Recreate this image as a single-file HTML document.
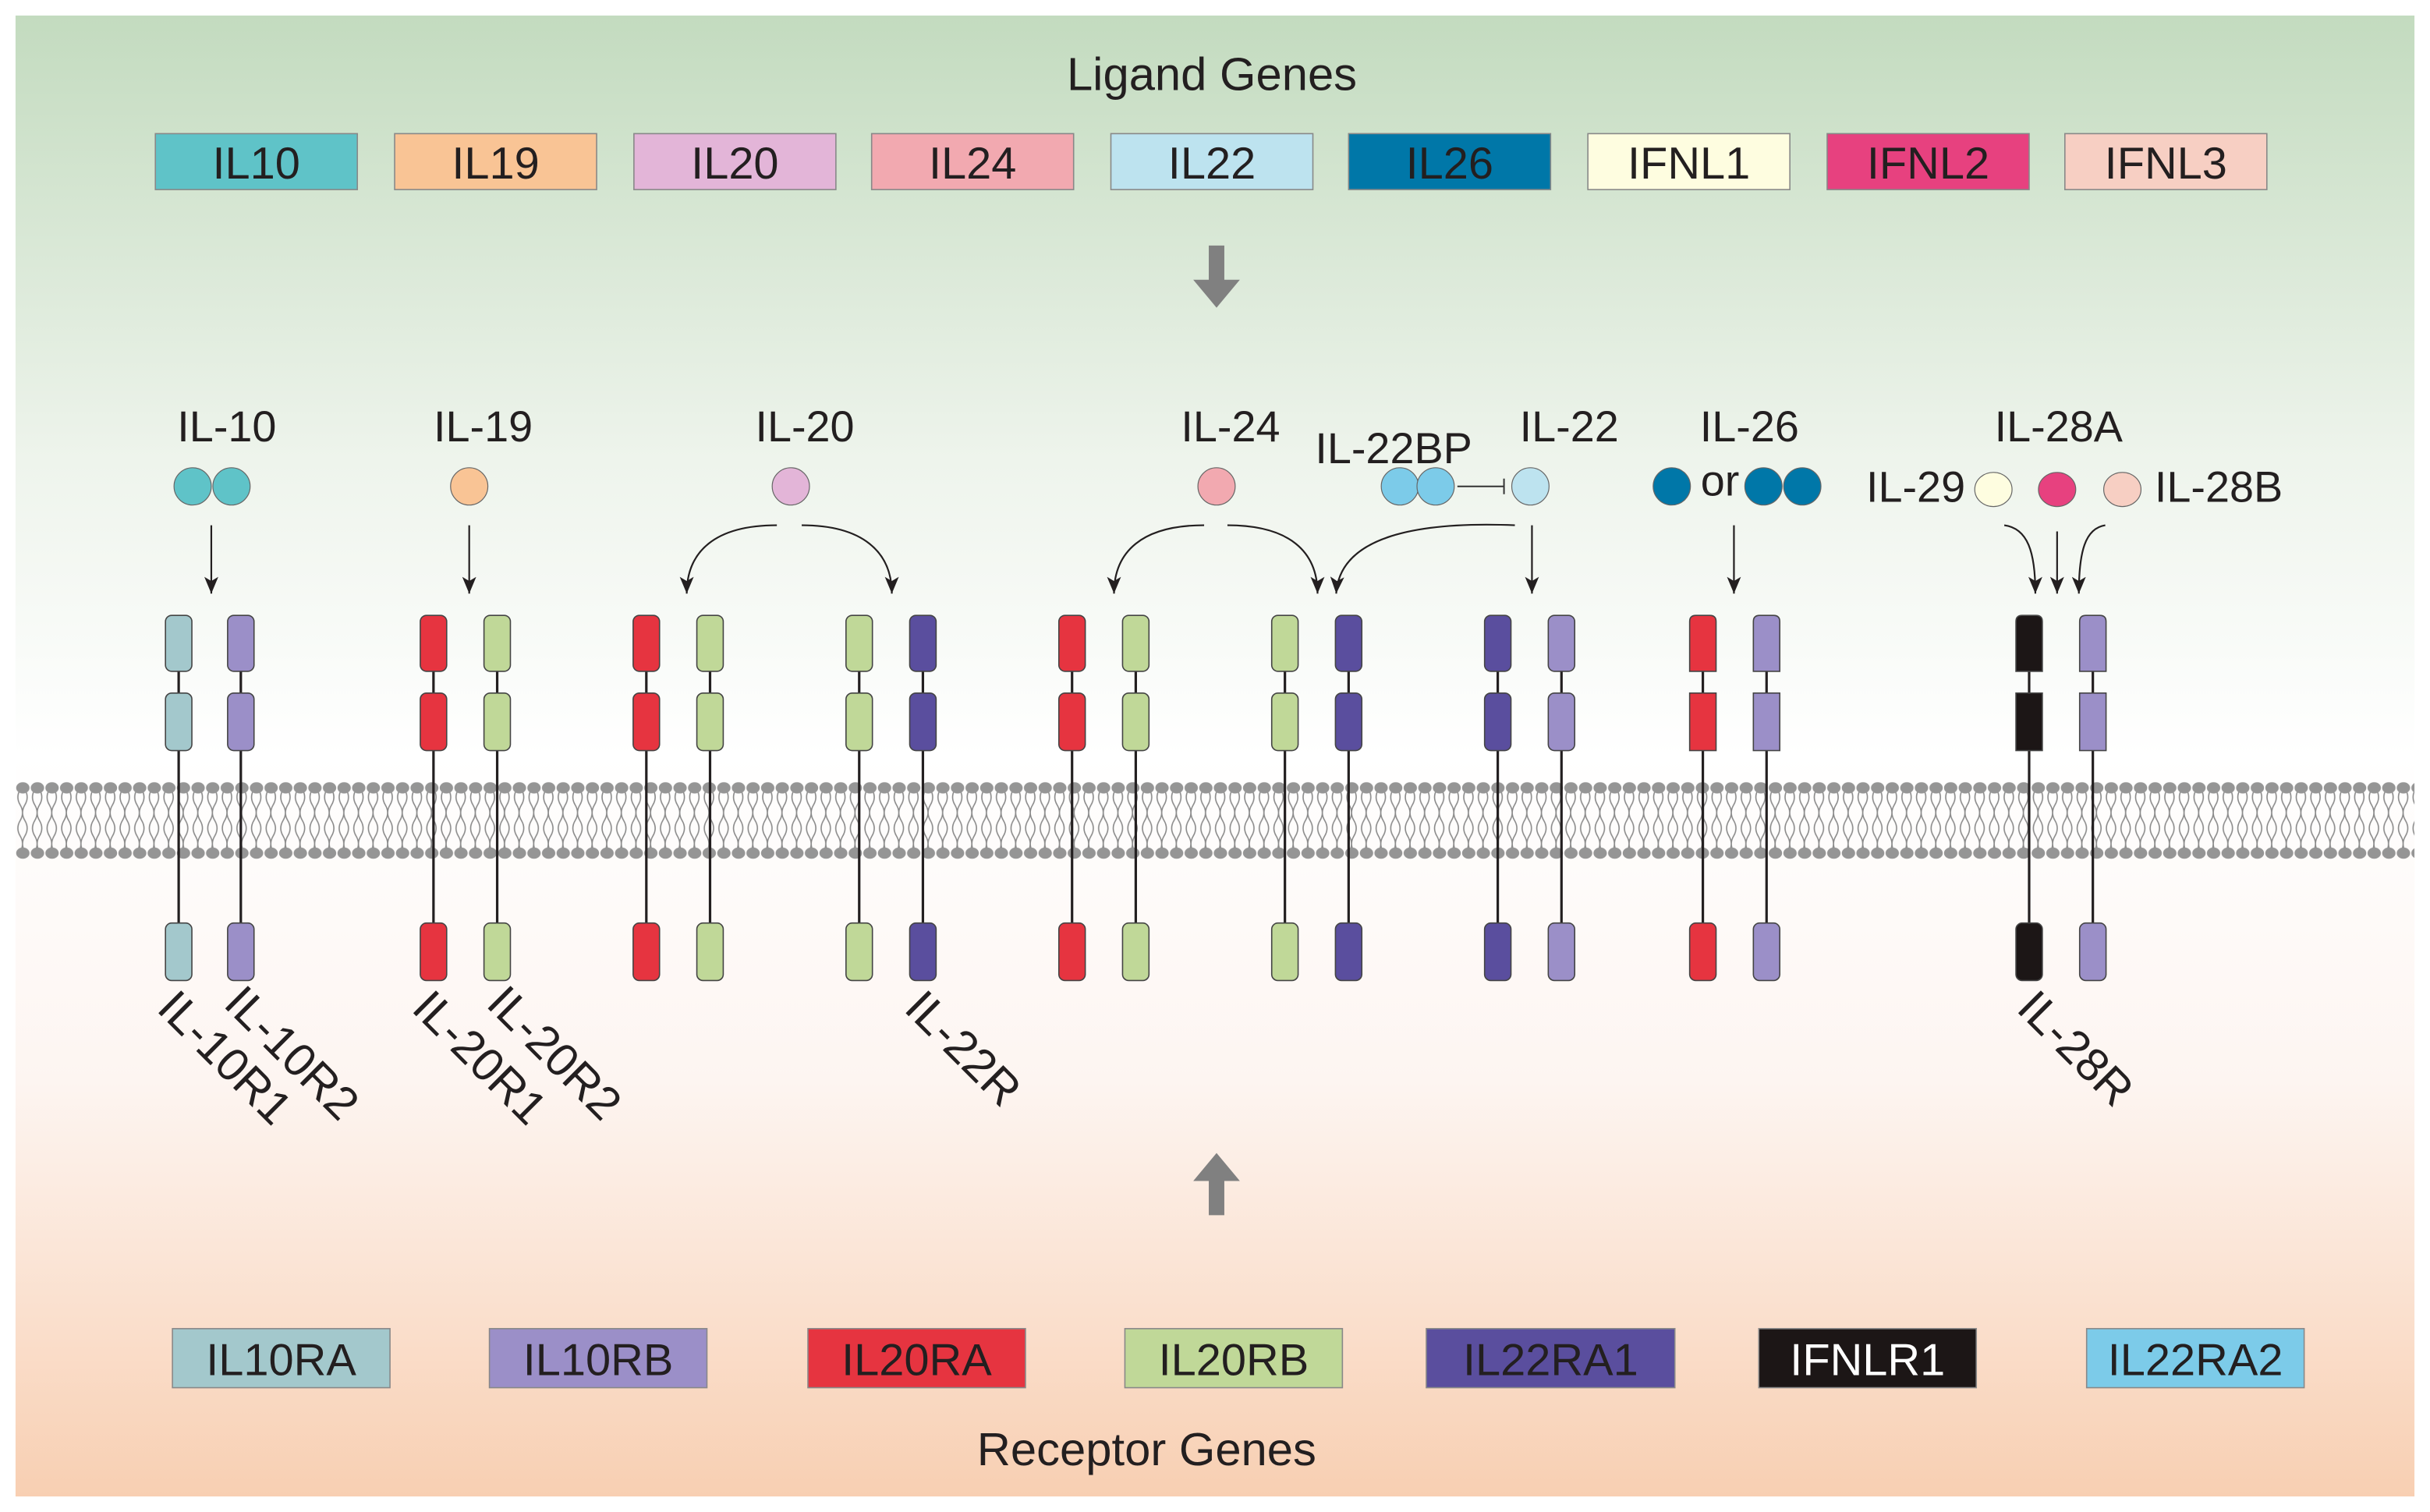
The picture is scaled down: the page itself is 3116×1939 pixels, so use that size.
<!DOCTYPE html>
<html><head><meta charset="utf-8"><style>
html,body{margin:0;padding:0;background:#fff}
svg{display:block}
text{font-family:"Liberation Sans",sans-serif;fill:#231f20}
</style></head><body>
<svg width="3116" height="1939" viewBox="0 0 1564 973" preserveAspectRatio="none" xmlns="http://www.w3.org/2000/svg">
<defs>
<linearGradient id="bg" x1="0" y1="0" x2="0" y2="1">
<stop offset="0" stop-color="#c3dbbf"/>
<stop offset="0.3" stop-color="#eef4ec"/>
<stop offset="0.5" stop-color="#ffffff"/>
<stop offset="0.72" stop-color="#fdf5f1"/>
<stop offset="1" stop-color="#f8cfb2"/>
</linearGradient>
<pattern id="mem" x="10" y="500" width="9.4" height="56" patternUnits="userSpaceOnUse">
<path d="M3 8 q-3 5 0 10 q3 5 0 10 M6 8 q3 5 0 10 q-3 5 0 10 M3 28 q-3 5 0 10 q3 5 0 10 M6 28 q3 5 0 10 q-3 5 0 10" fill="none" stroke="#8a8a8a" stroke-width="0.8"/>
<ellipse cx="4.7" cy="7" rx="4.3" ry="3.6" fill="#959595"/>
<ellipse cx="4.7" cy="49" rx="4.3" ry="3.6" fill="#959595"/>
</pattern>
<marker id="ah" viewBox="0 0 12 10" refX="12" refY="5" markerWidth="12" markerHeight="9" orient="auto" markerUnits="userSpaceOnUse">
<path d="M0 0 L12 5 L0 10 L3 5 Z" fill="#231f20"/>
</marker>
</defs>
<rect x="10" y="10" width="1544" height="953" fill="url(#bg)"/>
<rect x="10" y="500" width="1544" height="56" fill="url(#mem)"/>

<text x="780" y="58" font-size="30" text-anchor="middle">Ligand Genes</text>
<g stroke="#888" stroke-width="0.8">
<rect x="100" y="86" width="130" height="36" fill="#5fc3c8"/>
<rect x="254" y="86" width="130" height="36" fill="#f9c495"/>
<rect x="408" y="86" width="130" height="36" fill="#e3b5d8"/>
<rect x="561" y="86" width="130" height="36" fill="#f2a9b0"/>
<rect x="715" y="86" width="130" height="36" fill="#bde3ef"/>
<rect x="868" y="86" width="130" height="36" fill="#0077a8"/>
<rect x="1022" y="86" width="130" height="36" fill="#fefde0"/>
<rect x="1176" y="86" width="130" height="36" fill="#e7417f"/>
<rect x="1329" y="86" width="130" height="36" fill="#f7cfc3"/>
</g>
<g font-size="29" text-anchor="middle">
<text x="165" y="115">IL10</text><text x="319" y="115">IL19</text><text x="473" y="115">IL20</text>
<text x="626" y="115">IL24</text><text x="780" y="115">IL22</text><text x="933" y="115">IL26</text>
<text x="1087" y="115">IFNL1</text><text x="1241" y="115">IFNL2</text><text x="1394" y="115">IFNL3</text>
</g>

<path d="M778 158 h10 v22 h10 l-15 18 l-15 -18 h10 z" fill="#808080"/>
<path d="M778 782 h10 v-22 h10 l-15 -18 l-15 18 h10 z" fill="#808080"/>

<g font-size="28" text-anchor="middle">
<text x="146" y="284">IL-10</text><text x="311" y="284">IL-19</text><text x="518" y="284">IL-20</text>
<text x="792" y="284">IL-24</text><text x="897" y="298">IL-22BP</text><text x="1010" y="284">IL-22</text>
<text x="1126" y="284">IL-26</text><text x="1325" y="284">IL-28A</text>
<text x="1233" y="323">IL-29</text><text x="1428" y="323">IL-28B</text>
<text x="1107" y="319">or</text>
</g>
<g stroke="#666" stroke-width="0.6">
<ellipse cx="124" cy="313" rx="12" ry="12" fill="#5fc3c8"/><ellipse cx="149" cy="313" rx="12" ry="12" fill="#5fc3c8"/>
<ellipse cx="302" cy="313" rx="12" ry="12" fill="#f9c495"/>
<ellipse cx="509" cy="313" rx="12" ry="12" fill="#e3b5d8"/>
<ellipse cx="783" cy="313" rx="12" ry="12" fill="#f2a9b0"/>
<ellipse cx="901" cy="313" rx="12" ry="12" fill="#7ccbe9"/><ellipse cx="924" cy="313" rx="12" ry="12" fill="#7ccbe9"/>
<ellipse cx="985" cy="313" rx="12" ry="12" fill="#bde3ef"/>
<ellipse cx="1076" cy="313" rx="12" ry="12" fill="#0077a8"/><ellipse cx="1135" cy="313" rx="12" ry="12" fill="#0077a8"/><ellipse cx="1160" cy="313" rx="12" ry="12" fill="#0077a8"/>
<ellipse cx="1283" cy="315" rx="12" ry="11" fill="#fefde0"/><ellipse cx="1324" cy="315" rx="12" ry="11" fill="#e7417f"/><ellipse cx="1366" cy="315" rx="12" ry="11" fill="#f7cfc3"/>
</g>
<path d="M938 313 h30 M968 308 v10" stroke="#333" stroke-width="1"/>

<g fill="none" stroke="#231f20" stroke-width="1.1" marker-end="url(#ah)">
<path d="M136 338 V382"/><path d="M302 338 V382"/>
<path d="M500 338 C460 338 442 355 442 382"/><path d="M516 338 C555 338 574 355 574 382"/>
<path d="M775 338 C735 338 717 355 717 382"/><path d="M790 338 C830 338 848 355 848 382"/>
<path d="M975 338 C900 335 862 350 860 382"/><path d="M986 338 V382"/>
<path d="M1116 338 V382"/>
<path d="M1290 338 C1305 340 1310 355 1310 382"/><path d="M1324 342 V382"/><path d="M1355 338 C1342 340 1338 355 1338 382"/>
</g>

<g stroke="#231f20" stroke-width="1.6">
<path d="M115 430V596M155 430V596M279 430V596M320 430V596M416 430V596M457 430V596M553 430V596M594 430V596M690 430V596M731 430V596M827 430V596M868 430V596M964 430V596M1005 430V596M1096 430V596M1137 430V596M1306 430V596M1347 430V596"/>
</g>
<g stroke="#444" stroke-width="0.8">
<g fill="#a3c8cc"><rect x="106.5" y="396" width="17" height="36" rx="4"/><rect x="106.5" y="446" width="17" height="37" rx="4"/><rect x="106.5" y="594" width="17" height="37" rx="4"/></g>
<g fill="#9b8fc8"><rect x="146.5" y="396" width="17" height="36" rx="4"/><rect x="146.5" y="446" width="17" height="37" rx="4"/><rect x="146.5" y="594" width="17" height="37" rx="4"/></g>
<g fill="#e63440"><rect x="270.5" y="396" width="17" height="36" rx="4"/><rect x="270.5" y="446" width="17" height="37" rx="4"/><rect x="270.5" y="594" width="17" height="37" rx="4"/></g>
<g fill="#c0d898"><rect x="311.5" y="396" width="17" height="36" rx="4"/><rect x="311.5" y="446" width="17" height="37" rx="4"/><rect x="311.5" y="594" width="17" height="37" rx="4"/></g>
<g fill="#e63440"><rect x="407.5" y="396" width="17" height="36" rx="4"/><rect x="407.5" y="446" width="17" height="37" rx="4"/><rect x="407.5" y="594" width="17" height="37" rx="4"/></g>
<g fill="#c0d898"><rect x="448.5" y="396" width="17" height="36" rx="4"/><rect x="448.5" y="446" width="17" height="37" rx="4"/><rect x="448.5" y="594" width="17" height="37" rx="4"/></g>
<g fill="#c0d898"><rect x="544.5" y="396" width="17" height="36" rx="4"/><rect x="544.5" y="446" width="17" height="37" rx="4"/><rect x="544.5" y="594" width="17" height="37" rx="4"/></g>
<g fill="#5a4e9e"><rect x="585.5" y="396" width="17" height="36" rx="4"/><rect x="585.5" y="446" width="17" height="37" rx="4"/><rect x="585.5" y="594" width="17" height="37" rx="4"/></g>
<g fill="#e63440"><rect x="681.5" y="396" width="17" height="36" rx="4"/><rect x="681.5" y="446" width="17" height="37" rx="4"/><rect x="681.5" y="594" width="17" height="37" rx="4"/></g>
<g fill="#c0d898"><rect x="722.5" y="396" width="17" height="36" rx="4"/><rect x="722.5" y="446" width="17" height="37" rx="4"/><rect x="722.5" y="594" width="17" height="37" rx="4"/></g>
<g fill="#c0d898"><rect x="818.5" y="396" width="17" height="36" rx="4"/><rect x="818.5" y="446" width="17" height="37" rx="4"/><rect x="818.5" y="594" width="17" height="37" rx="4"/></g>
<g fill="#5a4e9e"><rect x="859.5" y="396" width="17" height="36" rx="4"/><rect x="859.5" y="446" width="17" height="37" rx="4"/><rect x="859.5" y="594" width="17" height="37" rx="4"/></g>
<g fill="#5a4e9e"><rect x="955.5" y="396" width="17" height="36" rx="4"/><rect x="955.5" y="446" width="17" height="37" rx="4"/><rect x="955.5" y="594" width="17" height="37" rx="4"/></g>
<g fill="#9b8fc8"><rect x="996.5" y="396" width="17" height="36" rx="4"/><rect x="996.5" y="446" width="17" height="37" rx="4"/><rect x="996.5" y="594" width="17" height="37" rx="4"/></g>
<g fill="#e63440"><path d="M1087.5 432V400q0-4 4-4h9q4 0 4 4v32z"/><rect x="1087.5" y="446" width="17" height="37"/><rect x="1087.5" y="594" width="17" height="37" rx="4"/></g>
<g fill="#9b8fc8"><path d="M1128.5 432V400q0-4 4-4h9q4 0 4 4v32z"/><rect x="1128.5" y="446" width="17" height="37"/><rect x="1128.5" y="594" width="17" height="37" rx="4"/></g>
<g fill="#1c1616"><path d="M1297.5 432V400q0-4 4-4h9q4 0 4 4v32z"/><rect x="1297.5" y="446" width="17" height="37"/><rect x="1297.5" y="594" width="17" height="37" rx="4"/></g>
<g fill="#9b8fc8"><path d="M1338.5 432V400q0-4 4-4h9q4 0 4 4v32z"/><rect x="1338.5" y="446" width="17" height="37"/><rect x="1338.5" y="594" width="17" height="37" rx="4"/></g>
</g>

<g font-size="30">
<text transform="translate(100,650) rotate(45)">IL-10R1</text>
<text transform="translate(143,647) rotate(45)">IL-10R2</text>
<text transform="translate(264,650) rotate(45)">IL-20R1</text>
<text transform="translate(312,647) rotate(45)">IL-20R2</text>
<text transform="translate(581,650) rotate(45)">IL-22R</text>
<text transform="translate(1297,650) rotate(45)">IL-28R</text>
</g>

<g stroke="#888" stroke-width="0.8">
<rect x="111" y="855" width="140" height="38" fill="#a3c8cc"/>
<rect x="315" y="855" width="140" height="38" fill="#9b8fc8"/>
<rect x="520" y="855" width="140" height="38" fill="#e63440"/>
<rect x="724" y="855" width="140" height="38" fill="#c0d898"/>
<rect x="918" y="855" width="160" height="38" fill="#5a4e9e"/>
<rect x="1132" y="855" width="140" height="38" fill="#1c1616"/>
<rect x="1343" y="855" width="140" height="38" fill="#7ccbe9"/>
</g>
<g font-size="29" text-anchor="middle">
<text x="181" y="885">IL10RA</text><text x="385" y="885">IL10RB</text><text x="590" y="885">IL20RA</text>
<text x="794" y="885">IL20RB</text><text x="998" y="885">IL22RA1</text><text x="1202" y="885" style="fill:#fff">IFNLR1</text>
<text x="1413" y="885">IL22RA2</text>
</g>
<text x="738" y="943" font-size="30" text-anchor="middle">Receptor Genes</text>
</svg>
</body></html>
